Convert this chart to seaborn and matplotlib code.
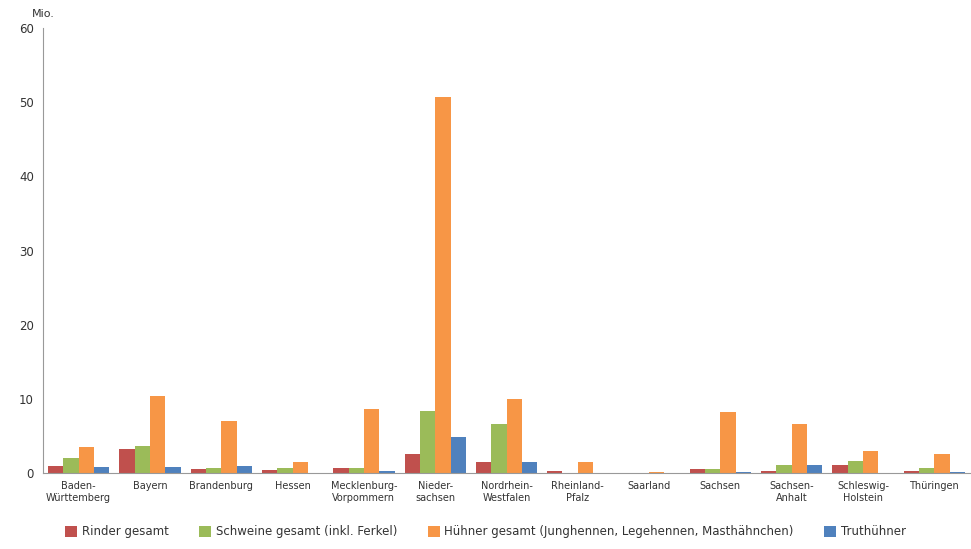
import pandas as pd
import matplotlib
matplotlib.use('Agg')
import matplotlib.pyplot as plt
import seaborn as sns

# Bundesländer (tick labels with line breaks as in the original)
laender = ['Baden-\nWürttemberg', 'Bayern', 'Brandenburg', 'Hessen', 'Mecklenburg-\nVorpommern',
           'Nieder-\nsachsen', 'Nordrhein-\nWestfalen', 'Rheinland-\nPfalz', 'Saarland', 'Sachsen',
           'Sachsen-\nAnhalt', 'Schleswig-\nHolstein', 'Thüringen']

# animal counts in Mio.
rinder = [1.0, 3.3, 0.58, 0.45, 0.63, 2.5, 1.45, 0.3, 0.05, 0.5, 0.3, 1.12, 0.3]
schweine = [2.07, 3.65, 0.67, 0.67, 0.67, 8.4, 6.6, 0.05, 0.02, 0.58, 1.08, 1.6, 0.67]
huehner = [3.5, 10.4, 7.0, 1.53, 8.6, 50.7, 10.0, 1.5, 0.15, 8.2, 6.6, 2.9, 2.56]
truthuehner = [0.85, 0.85, 1.0, 0.0, 0.3, 4.9, 1.53, 0.0, 0.0, 0.18, 1.12, 0.05, 0.18]

series_names = ['Rinder gesamt', 'Schweine gesamt (inkl. Ferkel)',
                'Hühner gesamt (Junghennen, Legehennen, Masthähnchen)', 'Truthühner']
colors = ['#C0504D', '#9BBB59', '#F79646', '#4F81BD']

rows = []
for name, vals in zip(series_names, [rinder, schweine, huehner, truthuehner]):
    for land, v in zip(laender, vals):
        rows.append({'Land': land, 'Tierart': name, 'Mio': v})
df = pd.DataFrame(rows)

sns.set_style('white')
plt.rcParams['font.family'] = ['DejaVu Sans']

fig = plt.figure(figsize=(9.71, 5.49), dpi=100)
ax = fig.add_axes([43 / 971, 1 - 473 / 549, 927 / 971, 445 / 549])

sns.barplot(data=df, x='Land', y='Mio', hue='Tierart', palette=colors,
            width=0.86, gap=0, saturation=1, linewidth=0, ax=ax, legend=True)

ax.set_ylim(0, 60)
ax.set_yticks(range(0, 61, 10))
ax.set_xlabel('')
ax.set_ylabel('')
ax.tick_params(axis='y', direction='inout', length=6, color='#888888', labelsize=8.5, labelcolor='#333333')
ax.tick_params(axis='x', length=0, labelsize=7, labelcolor='#333333', pad=6)
for s in ['top', 'right']:
    ax.spines[s].set_visible(False)
ax.spines['left'].set_color('#999999')
ax.spines['bottom'].set_color('#999999')
ax.text(0.0, 1.02, 'Mio.', transform=ax.transAxes, ha='center', va='bottom', fontsize=8, color='#333333')

handles, labels = ax.get_legend_handles_labels()
ax.get_legend().remove()
fig.legend(handles, labels, loc='lower center', bbox_to_anchor=(0.5, 0.0), ncol=4, frameon=False,
           fontsize=8.5, handlelength=1.0, handleheight=1.0, handletextpad=0.4,
           columnspacing=2.6, labelcolor='#333333')

fig.savefig('out.png', dpi=100)
